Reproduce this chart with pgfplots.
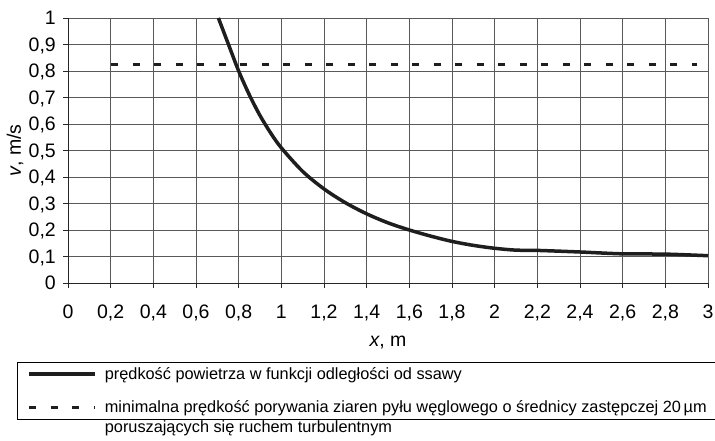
\documentclass[border=0pt]{standalone}
\usepackage{fontspec}
\setmainfont{Liberation Sans}
\usepackage{pgfplots}
\pgfplotsset{compat=1.18}
\definecolor{ink}{HTML}{1E1E1E}
\begin{document}
\begin{tikzpicture}
\useasboundingbox (-68pt,-158pt) rectangle (647pt,283pt);
\clip (-68pt,-158pt) rectangle (647pt,283pt);
\begin{axis}[
  at={(0pt,0pt)}, anchor=south west,
  scale only axis, width=640pt, height=265pt,
  xmin=0, xmax=3, ymin=0, ymax=1,
  xtick={0,0.2,0.4,0.6,0.8,1,1.2,1.4,1.6,1.8,2,2.2,2.4,2.6,2.8,3},
  ytick={0,0.1,0.2,0.3,0.4,0.5,0.6,0.7,0.8,0.9,1},
  axis x line*=bottom, axis y line*=left,
  axis line style={-, black!85, line width=0.9pt},
  grid=major, major grid style={black!65, line width=0.8pt},
  tick align=outside, major tick length=5pt,
  tick style={black!85, line width=0.8pt},
  /pgf/number format/use comma,
  /pgf/number format/assume math mode=true,
  ticklabel style={font=\fontsize{19.5}{23}\selectfont},
  xticklabel style={anchor=base, inner sep=0pt, yshift=-30pt},
  yticklabel style={anchor=base east, inner sep=0pt, xshift=-7pt, yshift=-7pt},
  label style={font=\fontsize{19.5}{23}\selectfont},
  xlabel={\textit{x}, m},
  ylabel={\textit{v}, m/s},
  xlabel style={at={([yshift=-60pt]axis description cs:0.5,0)}, anchor=center},
  ylabel style={at={([xshift=-53pt]axis description cs:0,0.5)}, anchor=center},
  legend style={
    at={([xshift=-51pt,yshift=-79pt]axis description cs:0,0)}, anchor=north west,
    draw=black, line width=0.8pt,
    font=\fontsize{16.3}{20}\selectfont,
    inner xsep=10pt, inner ysep=3pt,
    row sep=16pt, column sep=6pt,
  },
  legend cell align=left,
  legend image code/.code={\draw[#1] (0pt,0pt) -- (66pt,0pt);},
]
\addplot[ink, line width=3.3pt, dash pattern=on 7pt off 14.5pt, forget plot]
  coordinates {(0.203,0.825) (2.95,0.825)};
\addplot[ink, line width=3.5pt, smooth, forget plot] coordinates {
(0.705,1.0) (0.75,0.905) (0.8,0.80) (0.85,0.71) (0.9,0.632) (0.95,0.566)
(1.0,0.51) (1.1,0.421) (1.2,0.355) (1.3,0.303) (1.4,0.261) (1.5,0.227)
(1.6,0.200) (1.7,0.177) (1.8,0.157) (1.9,0.142) (2.0,0.131) (2.1,0.124)
(2.2,0.123) (2.4,0.117) (2.6,0.110) (2.8,0.109) (3.0,0.103)};
\addlegendimage{ink, line width=3.5pt}
\addlegendentry{prędkość powietrza w funkcji odległości od ssawy}
\addlegendimage{ink, line width=3.3pt, dash pattern=on 7pt off 14.5pt}
\addlegendentry{\parbox[t]{640pt}{minimalna prędkość porywania ziaren pyłu węglowego o średnicy zastępczej 20\,µm\\poruszających się ruchem turbulentnym\par\vspace*{12pt}}}
\end{axis}
\end{tikzpicture}
\end{document}
